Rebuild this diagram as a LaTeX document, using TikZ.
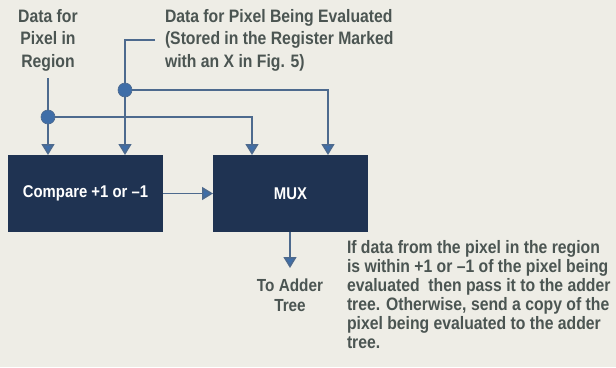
\documentclass[tikz,border=0pt]{standalone}
\usepackage{fontspec}
\setmainfont{Liberation Sans}[FakeStretch=0.875]
\usetikzlibrary{arrows.meta}
\definecolor{mxpaper}{HTML}{EEEDE6}
\definecolor{mxbox}{HTML}{1F3352}
\definecolor{mxline}{HTML}{4D6A8E}
\definecolor{mxtip}{HTML}{3F6EA8}
\definecolor{mxink}{HTML}{4B5552}

\begin{document}
\begin{tikzpicture}[
  x=1pt, y=-1pt,
  every node/.style={inner sep=0pt, outer sep=0pt, text=mxink},
  blk/.style={draw=none, fill=mxbox, minimum width=155pt, minimum height=77pt,
              text=white, font=\bfseries\fontsize{17}{20}\selectfont},
  wire/.style={draw=mxline, line width=1.5pt},
  flow/.style={wire, -{Triangle[length=11pt,width=13pt,fill=mxtip]}},
  dot/.style={fill=mxtip, draw=mxline, line width=0.6pt},
  lbl/.style={font=\bfseries\fontsize{18}{22.5}\selectfont},
  txt/.style={font=\bfseries\fontsize{18}{19}\selectfont},
]
\fill[mxpaper] (0,0) rectangle (616,367);
\useasboundingbox (0,0) rectangle (616,367);

% the two blocks
\node[blk] (cmp) at (85.5,193.5) {Compare +1 or --1};
\node[blk] (mux) at (290.5,193.5) {MUX};

% labels over the inputs
\node[lbl, align=center] (regtxt) at (48,40) {Data for\\Pixel in\\Region};
\node[lbl, align=left, anchor=west] (evaltxt) at (165,40)
  {Data for Pixel Being Evaluated\\(Stored in the Register Marked\\with an X in Fig. 5)};

% taps and corners
\coordinate (regtop) at (48,78);
\coordinate (dotA) at (48,117);
\coordinate (evalend) at (155,40);
\coordinate (evalcorner) at (125,40);
\coordinate (dotB) at (125,90);
\coordinate (muxA) at (252,155);
\coordinate (muxB) at (328,155);

% pixel in region
\draw[wire] (regtop) -- (dotA);
\draw[flow] (dotA) -- (dotA |- cmp.north);
\draw[flow] (dotA) -| (muxA);

% pixel being evaluated
\draw[wire] (evalend) -- (evalcorner) -- (dotB);
\draw[flow] (dotB) -- (dotB |- cmp.north);
\draw[flow] (dotB) -| (muxB);

\draw[dot] (dotA) circle (7pt);
\draw[dot] (dotB) circle (7pt);

% compare result selects the mux
\draw[flow] (cmp) -- (mux);

% output
\coordinate (outend) at (290,268);
\draw[flow] (mux.south -| outend) -- (outend);
\node[lbl, align=center, font=\bfseries\fontsize{17.5}{20}\selectfont] (outtxt) at (290,295) {To Adder\\Tree};

\node[txt, align=left, anchor=north west] (note) at (347,240)
  {If data from the pixel in the region\\
   is within +1 or --1 of the pixel being\\
   evaluated\ \ then pass it to the adder\\
   tree. Otherwise, send a copy of the\\
   pixel being evaluated to the adder\\
   tree.};

\end{tikzpicture}
\end{document}
